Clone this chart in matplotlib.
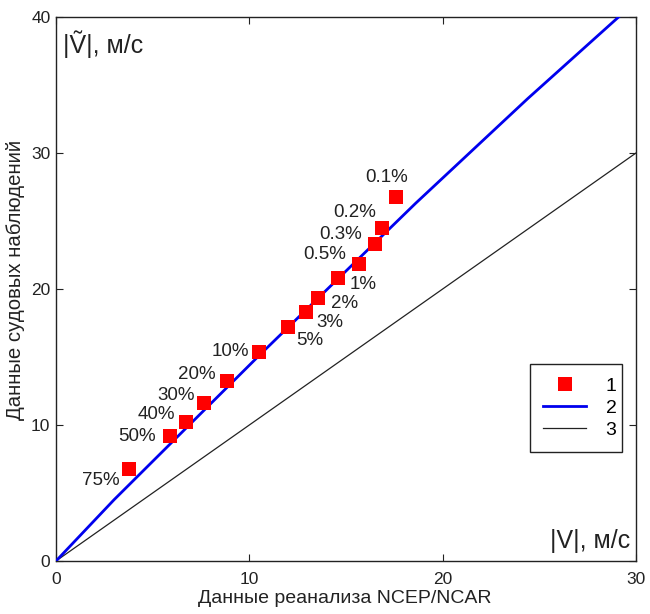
import matplotlib
matplotlib.use("Agg")
import matplotlib.pyplot as plt
from matplotlib.lines import Line2D

plt.rcParams['font.family'] = ['Liberation Sans', 'DejaVu Sans']

# ---- data ----
prob_labels = ["75%", "50%", "40%", "30%", "20%", "10%", "5%", "3%", "2%", "1%",
               "0.5%", "0.3%", "0.2%", "0.1%"]
reanalysis = [3.79, 5.90, 6.73, 7.67, 8.86, 10.50, 12.00, 12.92, 13.57, 14.57,
              15.68, 16.50, 16.88, 17.60]
ship_obs = [6.74, 9.22, 10.24, 11.60, 13.24, 15.35, 17.24, 18.33, 19.32, 20.83,
            21.84, 23.31, 24.46, 26.74]

fit_x = [0.0, 3.0, 10.5, 18.6, 24.4, 29.1]
fit_y = [0.0, 4.5, 15.1, 26.3, 34.0, 40.0]

equal_x = [0.0, 30.0]
equal_y = [0.0, 30.0]

x_ticks = [0, 10, 20, 30]
y_ticks = [0, 10, 20, 30, 40]
legend_labels = ["1", "2", "3"]

# label offsets (pixels) relative to each marker
label_offsets = [(-28, -11), (-33, -1), (-30, 7), (-28, 8), (-30, 6), (-29, 1),
                 (22, -14), (24, -11), (26, -5), (25, -7),
                 (-34, 9), (-34, 9), (-28, 16), (-10, 20)]

fig = plt.figure(figsize=(6.5, 6.14), dpi=100)
ax = fig.add_axes([56/650, 53/614, 580/650, 544/614])

ax.plot(equal_x, equal_y, color='#222222', lw=0.9, zorder=2)
ax.plot(fit_x, fit_y, color='#0000ee', lw=2.0, zorder=3)
ax.plot(reanalysis, ship_obs, 's', color='#ff0000', markersize=9.5,
        markeredgewidth=0, zorder=4)

for lab, x, y, off in zip(prob_labels, reanalysis, ship_obs, label_offsets):
    ax.annotate(lab, (x, y), xytext=off, textcoords='offset pixels',
                ha='center', va='center', fontsize=13.5, color='#222222')

ax.set_xlim(0, 30)
ax.set_ylim(0, 40)
ax.set_xticks(x_ticks)
ax.set_yticks(y_ticks)
tick_font = ['Liberation Sans Narrow', 'Liberation Sans', 'DejaVu Sans']
ax.tick_params(axis='x', direction='in', length=5, pad=8, labelsize=12.5,
               colors='#222222', top=True)
ax.tick_params(axis='y', direction='in', length=5, pad=4, labelsize=12.5,
               colors='#222222', right=True)
for t in ax.get_xticklabels() + ax.get_yticklabels():
    t.set_family(tick_font)
for s in ax.spines.values():
    s.set_color('#222222')
    s.set_linewidth(1.0)

ax.set_xlabel("Данные реанализа NCEP/NCAR", fontsize=14, color='#222222')
ax.xaxis.set_label_coords(0.498, -0.053)
ax.set_ylabel("Данные судовых наблюдений", fontsize=14.7, color='#222222')
ax.yaxis.set_label_coords(-0.053, 0.517)

ax.text(0.012, 0.934, "|Ṽ|, м/с", transform=ax.transAxes, fontsize=18,
        ha='left', va='baseline', color='#222222')
ax.text(0.99, 0.024, "|V|, м/с", transform=ax.transAxes, fontsize=18,
        ha='right', va='baseline', color='#222222')

handles = [Line2D([], [], marker='s', color='#ff0000', linestyle='none',
                  markersize=9.5, markeredgewidth=0),
           Line2D([], [], color='#0000ee', lw=2.0),
           Line2D([], [], color='#222222', lw=0.9)]
leg = ax.legend(handles, legend_labels, loc='lower left',
                bbox_to_anchor=(0.817, 0.200, 0.159, 0.166), mode='expand',
                fontsize=14, fancybox=False, framealpha=1, edgecolor='#222222',
                handlelength=2.2, handletextpad=1.0, labelspacing=0.22,
                borderpad=0.7, borderaxespad=0)
leg.get_frame().set_linewidth(1.0)
for t in leg.get_texts():
    t.set_ha('left')

fig.savefig("out.png", dpi=100)
